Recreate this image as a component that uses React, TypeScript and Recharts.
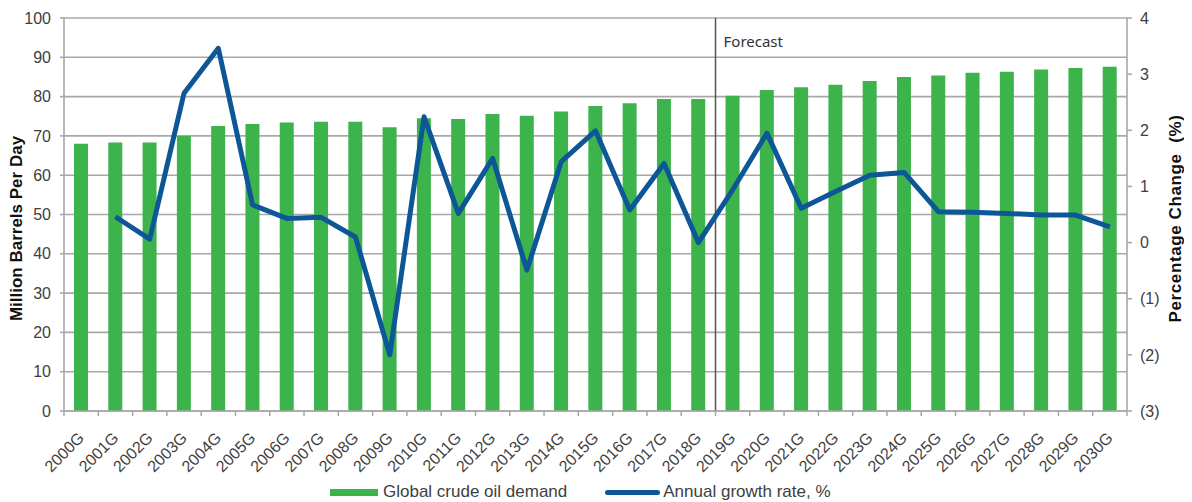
import React from 'react';
import {
  ComposedChart,
  Bar,
  Line,
  XAxis,
  YAxis,
  CartesianGrid,
  ReferenceLine,
  Legend,
  Label,
} from 'recharts';

const categories = [
  '2000G', '2001G', '2002G', '2003G', '2004G', '2005G', '2006G', '2007G', '2008G', '2009G',
  '2010G', '2011G', '2012G', '2013G', '2014G', '2015G', '2016G', '2017G', '2018G', '2019G',
  '2020G', '2021G', '2022G', '2023G', '2024G', '2025G', '2026G', '2027G', '2028G', '2029G', '2030G',
];

const demand = [
  68, 68.3, 68.3, 70, 72.5, 73, 73.4, 73.6, 73.6, 72.2,
  74.5, 74.3, 75.6, 75.1, 76.2, 77.6, 78.3, 79.4, 79.4, 80.2,
  81.7, 82.4, 83, 84, 85, 85.4, 86.1, 86.3, 86.9, 87.3, 87.6,
];

const growth: (number | null)[] = [
  null, 0.46, 0.06, 2.66, 3.46, 0.67, 0.43, 0.45, 0.1, -2.0,
  2.24, 0.52, 1.5, -0.49, 1.44, 1.99, 0.58, 1.41, 0.0, 0.94,
  1.95, 0.61, 0.91, 1.2, 1.25, 0.55, 0.54, 0.52, 0.49, 0.49, 0.28,
];

const leftTicks = [0, 10, 20, 30, 40, 50, 60, 70, 80, 90, 100];
const rightTicks = [-3, -2, -1, 0, 1, 2, 3, 4];
const forecastStart = '2019G';

const data = categories.map((c, i) => ({ year: c, demand: demand[i], growth: growth[i] }));

const CHART_W = 1176;
const CHART_H = 494;
const LEFT_W = 56;
const RIGHT_W = 57;
const PLOT_W = CHART_W - LEFT_W - RIGHT_W;
const STEP = PLOT_W / categories.length;

const GREEN = '#3cb44b';
const BLUE = '#0d5797';
const GRID = '#a8a8a8';
const TEXT = '#404040';
const FONT = '"Liberation Sans", Arial, sans-serif';

const XTick = (props: any) => {
  const { x, y, payload, index } = props;
  const isLast = index === categories.length - 1;
  return (
    <g>
      <line x1={x - STEP / 2} y1={y - 8} x2={x - STEP / 2} y2={y - 3} stroke={GRID} strokeWidth={1.5} />
      {isLast && (
        <line x1={x + STEP / 2} y1={y - 8} x2={x + STEP / 2} y2={y - 3} stroke={GRID} strokeWidth={1.5} />
      )}
      <g transform={`translate(${x + 4},${y + 20})`}>
        <text
          textAnchor="end"
          transform="rotate(-45)"
          fontSize={16}
          fill={TEXT}
          fontFamily={FONT}
        >
          {payload.value}
        </text>
      </g>
    </g>
  );
};

const LeftAxisLabel = (props: any) => {
  const vb = props.viewBox || { x: 0, y: 0, width: 0, height: 0 };
  const cx = vb.x + 8.5;
  const cy = vb.y + vb.height / 2 + 14;
  return (
    <text
      x={cx}
      y={cy}
      transform={`rotate(-90, ${cx}, ${cy})`}
      textAnchor="middle"
      dominantBaseline="central"
      fontSize={17}
      fontWeight="bold"
      fill="#111"
      fontFamily={FONT}
    >
      Million Barrels Per Day
    </text>
  );
};

const RightAxisLabel = (props: any) => {
  const vb = props.viewBox || { x: 0, y: 0, width: 0, height: 0 };
  const cx = vb.x + 48;
  const cy = vb.y + vb.height / 2 + 4;
  return (
    <text
      x={cx}
      y={cy}
      transform={`rotate(-90, ${cx}, ${cy})`}
      textAnchor="middle"
      dominantBaseline="central"
      fontSize={17}
      fontWeight="bold"
      letterSpacing={0.6}
      fill="#111"
      fontFamily={FONT}
      style={{ whiteSpace: 'pre' }}
    >
      {'Percentage Change  (%)'}
    </text>
  );
};

const ForecastLabel = (props: any) => {
  const vb = props.viewBox || { x: 0, y: 0 };
  return (
    <text x={vb.x + 8} y={vb.y + 29} fontSize={15} fill="#333" fontFamily='"Noto Sans", sans-serif'>
      Forecast
    </text>
  );
};

const LegendContent = () => (
  <div
    style={{
      height: 24,
      display: 'flex',
      alignItems: 'center',
      paddingLeft: 322,
      paddingTop: 4,
      boxSizing: 'border-box',
      fontFamily: FONT,
      fontSize: 17,
      color: TEXT,
      whiteSpace: 'nowrap',
    }}
  >
    <span style={{ display: 'inline-block', width: 48, height: 7, background: GREEN, marginRight: 5 }} />
    <span style={{ marginRight: 38 }}>Global crude oil demand</span>
    <span
      style={{ display: 'inline-block', width: 55, height: 5, background: BLUE, borderRadius: 3, marginRight: 3 }}
    />
    <span>Annual growth rate, %</span>
  </div>
);

export default function App() {
  return (
    <ComposedChart
      width={CHART_W}
      height={CHART_H}
      data={data}
      margin={{ top: 10, right: 0, bottom: 0, left: 0 }}
      barCategoryGap={0}
    >
      <CartesianGrid yAxisId="left" vertical={false} stroke={GRID} strokeWidth={1.6} />
      <XAxis
        dataKey="year"
        height={67}
        interval={0}
        tickLine={false}
        axisLine={{ stroke: GRID, strokeWidth: 1.6 }}
        tick={<XTick />}
      />
      <YAxis
        yAxisId="left"
        orientation="left"
        width={LEFT_W}
        domain={[0, 100]}
        ticks={leftTicks}
        interval={0}
        tickSize={4}
        tickMargin={9}
        axisLine={{ stroke: GRID, strokeWidth: 1.6 }}
        tickLine={{ stroke: GRID, strokeWidth: 1.6 }}
        tick={{ fontSize: 16, fill: TEXT, fontFamily: FONT }}
      >
        <Label content={<LeftAxisLabel />} />
      </YAxis>
      <YAxis
        yAxisId="right"
        orientation="right"
        width={RIGHT_W}
        domain={[-3, 4]}
        ticks={rightTicks}
        interval={0}
        tickSize={5}
        tickMargin={8}
        axisLine={{ stroke: GRID, strokeWidth: 1.6 }}
        tickLine={{ stroke: GRID, strokeWidth: 1.6 }}
        tick={{ fontSize: 16, fill: TEXT, fontFamily: FONT }}
        tickFormatter={(v: number) => (v < 0 ? `(${-v})` : `${v}`)}
      >
        <Label content={<RightAxisLabel />} />
      </YAxis>
      <Legend verticalAlign="bottom" height={24} content={<LegendContent />} />
      <Bar
        yAxisId="left"
        dataKey="demand"
        name="Global crude oil demand"
        fill={GREEN}
        barSize={14}
        isAnimationActive={false}
      />
      <ReferenceLine
        yAxisId="left"
        x={forecastStart}
        position="start"
        stroke="#555"
        strokeWidth={1.5}
        label={<ForecastLabel />}
      />
      <Line
        yAxisId="right"
        type="linear"
        dataKey="growth"
        name="Annual growth rate, %"
        stroke={BLUE}
        strokeWidth={5}
        strokeLinejoin="round"
        dot={false}
        activeDot={false}
        isAnimationActive={false}
      />
    </ComposedChart>
  );
}
